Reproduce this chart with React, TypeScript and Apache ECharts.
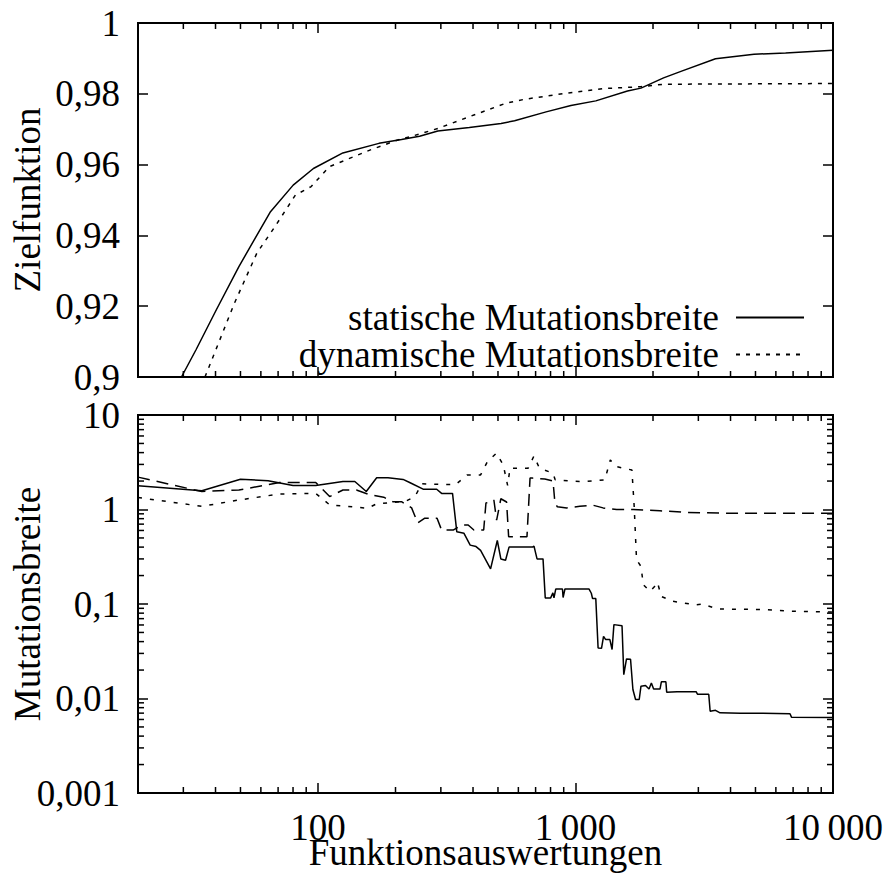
import React, { useEffect, useRef } from 'react';
import * as echarts from 'echarts';

const FONT = '"Liberation Serif", "Times New Roman", serif';
const FS = 37;
const LH = 26;

// ---- top panel: Zielfunktion ----
const zielStatischX = [29.5, 33.6, 40.3, 49.3, 65.4, 80.1, 96, 124.9, 172.5, 211, 248, 292, 387, 514, 580, 769, 960, 1199, 1592, 1796, 2198, 2583, 3497, 4934, 6546, 10000];
const zielStatischY = [0.9, 0.9077, 0.919, 0.9312, 0.9467, 0.9542, 0.9589, 0.9633, 0.966, 0.9671, 0.968, 0.9695, 0.9705, 0.9716, 0.9724, 0.9749, 0.9767, 0.978, 0.9808, 0.9816, 0.9845, 0.9864, 0.9899, 0.9912, 0.9915, 0.9923];
const zielDynamischX = [36.4, 47.4, 57.9, 68.1, 81.7, 94.1, 110.6, 130, 159, 203, 229, 292, 403, 535, 629, 904, 1300, 1796, 2198, 10000];
const zielDynamischY = [0.9, 0.9209, 0.935, 0.9425, 0.9514, 0.9538, 0.9594, 0.9615, 0.9641, 0.9669, 0.9679, 0.9702, 0.974, 0.9773, 0.9784, 0.9801, 0.9815, 0.982, 0.9827, 0.9829];

// ---- bottom panel: Mutationsbreite ----
const breiteStatischX = [20, 35.4, 50, 64, 80, 98, 125, 139, 154, 169, 187, 214, 228, 256, 289, 302, 333, 346, 369, 390, 411, 428, 468, 497, 513, 535, 552, 681, 690, 709, 748, 763, 801, 817, 825, 838, 890, 895, 910, 1129, 1152, 1165, 1199, 1224, 1262, 1285, 1310, 1360, 1387, 1410, 1516, 1540, 1578, 1636, 1671, 1711, 1768, 1796, 1870, 1930, 1971, 2011, 2129, 2155, 2244, 2260, 2481, 2940, 2976, 3292, 3334, 3497, 3642, 4365, 5346, 6808, 6897, 10000];
const breiteStatischY = [1.78, 1.58, 2.09, 2.02, 1.79, 1.79, 1.98, 1.98, 1.55, 2.17, 2.17, 2.08, 1.92, 1.64, 1.64, 1.48, 1.48, 0.58, 0.56, 0.42, 0.405, 0.37, 0.235, 0.47, 0.3, 0.29, 0.4, 0.4, 0.41, 0.3, 0.3, 0.116, 0.116, 0.131, 0.116, 0.144, 0.144, 0.117, 0.144, 0.144, 0.13, 0.114, 0.114, 0.0343, 0.034, 0.0455, 0.042, 0.042, 0.033, 0.0605, 0.059, 0.0179, 0.0262, 0.026, 0.01245, 0.00976, 0.00976, 0.0135, 0.0137, 0.0126, 0.0146, 0.0126, 0.0126, 0.015, 0.015, 0.01167, 0.0118, 0.0118, 0.0111, 0.0111, 0.00734, 0.0075, 0.00706, 0.007, 0.00696, 0.0069, 0.00635, 0.0063];

const breiteDyn1X = [20, 35.4, 49.3, 71, 98, 111, 125, 141, 159, 180, 195, 211, 231, 244, 260, 290, 302, 335, 361, 383, 403, 440, 449, 470, 482, 494, 513, 540, 550, 648, 666, 680, 760, 818, 832, 850, 925, 1040, 1170, 1280, 1445, 1675, 2128, 2704, 4096, 10000];
const breiteDyn1Y = [2.2, 1.55, 1.61, 1.93, 1.93, 1.37, 1.61, 1.61, 1.43, 1.35, 1.21, 1.21, 1.04, 0.72, 0.81, 0.81, 0.606, 0.606, 0.685, 0.685, 0.606, 0.606, 1.17, 1.22, 1.26, 0.77, 1.3, 1.2, 0.515, 0.515, 2.15, 2.15, 2.1, 2.0, 1.17, 1.07, 1.04, 1.08, 1.11, 1.04, 1.0, 1.0, 0.97, 0.93, 0.91, 0.91];

const breiteDyn2X = [20, 35.4, 49.3, 71, 98, 111, 130, 156, 169, 187, 220, 238, 253, 316, 343, 379, 428, 455, 493, 524, 545, 557, 655, 690, 724, 817, 834, 1062, 1300, 1365, 1439, 1528, 1656, 1690, 1726, 1796, 1834, 1947, 2028, 2080, 2155, 2384, 2919, 3100, 3572, 5346, 6808, 10000];
const breiteDyn2Y = [1.34, 1.08, 1.26, 1.46, 1.48, 1.12, 1.08, 1.03, 1.15, 1.17, 1.23, 1.37, 1.87, 1.84, 1.84, 2.32, 2.32, 3.21, 3.94, 2.97, 1.8, 2.74, 2.74, 3.69, 2.74, 2.42, 2.06, 1.97, 2.06, 3.35, 2.85, 2.74, 2.62, 1.08, 0.294, 0.25, 0.16, 0.136, 0.153, 0.17, 0.12, 0.107, 0.098, 0.1, 0.0886, 0.0875, 0.084, 0.0823];

const xMinorTicks = [30, 40, 50, 60, 70, 80, 90, 200, 300, 400, 500, 600, 700, 800, 900, 2000, 3000, 4000, 5000, 6000, 7000, 8000, 9000];
const yLogMinorTicks = [0.002, 0.003, 0.004, 0.005, 0.006, 0.007, 0.008, 0.009, 0.02, 0.03, 0.04, 0.05, 0.06, 0.07, 0.08, 0.09, 0.2, 0.3, 0.4, 0.5, 0.6, 0.7, 0.8, 0.9, 2, 3, 4, 5, 6, 7, 8, 9];
const legendNames = ['statische Mutationsbreite', 'dynamische Mutationsbreite'];
const axisNames = { x: 'Funktionsauswertungen', yTop: 'Zielfunktion', yBottom: 'Mutationsbreite' };

const zip = (xs: number[], ys: number[]) => xs.map((x, i) => [x, ys[i]]);

const fmtLin = (v: number) => String(Math.round(v * 1000) / 1000).replace('.', ',');
const fmtLog = (v: number) => {
  const l = Math.log10(v);
  const e = Math.round(l);
  if (Math.abs(l - e) > 1e-6) return '';
  if (e < 0) return '0,' + '0'.repeat(-e - 1) + '1';
  const s = '1' + '0'.repeat(e);
  return s.replace(/\B(?=(\d{3})+(?!\d))/g, '\u2009');
};

const tickStyle = { stroke: '#000', lineWidth: 1.5 };

function minorTicks(xAxisIndex: number, yAxisIndex: number, values: number[], dir: 'x' | 'y', ref: number, len: number) {
  return {
    type: 'custom',
    xAxisIndex,
    yAxisIndex,
    silent: true,
    clip: false,
    z: 5,
    data: values.map((v) => (dir === 'x' ? [v, ref] : [ref, v])),
    renderItem: (params: any, api: any) => {
      const cs = params.coordSys;
      const p = api.coord([api.value(0), api.value(1)]);
      if (dir === 'x') {
        return {
          type: 'group',
          children: [
            { type: 'line', shape: { x1: p[0], y1: cs.y + cs.height, x2: p[0], y2: cs.y + cs.height - len }, style: tickStyle },
            { type: 'line', shape: { x1: p[0], y1: cs.y, x2: p[0], y2: cs.y + len }, style: tickStyle },
          ],
        };
      }
      return {
        type: 'group',
        children: [
          { type: 'line', shape: { x1: cs.x, y1: p[1], x2: cs.x + len, y2: p[1] }, style: tickStyle },
          { type: 'line', shape: { x1: cs.x + cs.width, y1: p[1], x2: cs.x + cs.width - len, y2: p[1] }, style: tickStyle },
        ],
      };
    },
  };
}

const majorTick = { show: true, inside: true, length: 10, lineStyle: { color: '#000', width: 1.5 } };

function xAxis(gridIndex: number, position: string, showLabel: boolean, name?: string) {
  return {
    type: 'log',
    logBase: 10,
    gridIndex,
    position,
    min: 20,
    max: 10000,
    axisLine: { show: false },
    axisTick: majorTick,
    splitLine: { show: false },
    axisLabel: {
      show: showLabel,
      formatter: fmtLog,
      fontSize: FS,
      lineHeight: LH,
      fontFamily: FONT,
      color: '#000',
      margin: 21,
      showMinLabel: false,
      showMaxLabel: true,
      hideOverlap: false,
    },
    name: name || '',
    nameLocation: 'middle',
    nameGap: 46,
    nameMoveOverlap: false,
    nameTextStyle: { fontSize: FS, lineHeight: LH, fontFamily: FONT, color: '#000' },
  };
}

function yAxis(gridIndex: number, position: string, log: boolean, showLabel: boolean, name?: string) {
  const base: any = log
    ? { type: 'log', logBase: 10, min: 0.001, max: 10 }
    : { type: 'value', min: 0.9, max: 1, interval: 0.02 };
  return {
    ...base,
    gridIndex,
    position,
    axisLine: { show: false },
    axisTick: majorTick,
    splitLine: { show: false },
    axisLabel: {
      show: showLabel,
      formatter: log ? fmtLog : fmtLin,
      fontSize: FS,
      lineHeight: LH,
      fontFamily: FONT,
      color: '#000',
      margin: 18,
      showMinLabel: true,
      showMaxLabel: true,
      hideOverlap: false,
    },
    name: name || '',
    nameLocation: 'middle',
    nameGap: 92,
    nameMoveOverlap: false,
    nameTextStyle: { fontSize: FS, fontFamily: FONT, color: '#000' },
  };
}

function lineSeries(name: string, xAxisIndex: number, yAxisIndex: number, data: number[][], type: any) {
  return {
    type: 'line',
    name,
    xAxisIndex,
    yAxisIndex,
    data,
    symbol: 'none',
    showSymbol: false,
    z: 3,
    lineStyle: { color: '#000', width: 1.5, type },
    itemStyle: { color: '#000' },
  };
}

function legendFor(name: string, top: number) {
  return {
    data: [name],
    right: 81,
    top,
    orient: 'horizontal',
    align: 'right',
    itemWidth: 68,
    itemHeight: 14,
    selectedMode: false,
    padding: 0,
    itemStyle: { opacity: 0 },
    textStyle: { fontSize: FS, lineHeight: 30, fontFamily: FONT, color: '#000', padding: [0, 12, 0, 0] },
  };
}

export default function App() {
  const ref = useRef<HTMLDivElement>(null);
  useEffect(() => {
    if (!ref.current) return;
    const chart = echarts.init(ref.current, null, { renderer: 'svg' });
    const option: any = {
      animation: false,
      backgroundColor: '#fff',
      textStyle: { fontFamily: FONT, color: '#000' },
      grid: [
        { left: 138, top: 23, width: 695, height: 354, show: true, borderColor: '#000', borderWidth: 2, backgroundColor: 'transparent', outerBoundsMode: 'none' },
        { left: 138, top: 415, width: 695, height: 378, show: true, borderColor: '#000', borderWidth: 2, backgroundColor: 'transparent', outerBoundsMode: 'none' },
      ],
      xAxis: [
        xAxis(0, 'bottom', false),
        xAxis(0, 'top', false),
        xAxis(1, 'bottom', true, axisNames.x),
        xAxis(1, 'top', false),
      ],
      yAxis: [
        yAxis(0, 'left', false, true, axisNames.yTop),
        yAxis(0, 'right', false, false),
        yAxis(1, 'left', true, true, axisNames.yBottom),
        yAxis(1, 'right', true, false),
      ],
      legend: [legendFor(legendNames[0], 299), legendFor(legendNames[1], 336)],
      series: [
        lineSeries(legendNames[0], 0, 0, zip(zielStatischX, zielStatischY), 'solid'),
        lineSeries(legendNames[1], 0, 0, zip(zielDynamischX, zielDynamischY), [4, 6]),
        lineSeries('Mutationsbreite statisch', 2, 2, zip(breiteStatischX, breiteStatischY), 'solid'),
        lineSeries('Mutationsbreite dynamisch (1)', 2, 2, zip(breiteDyn1X, breiteDyn1Y), [12, 7]),
        lineSeries('Mutationsbreite dynamisch (2)', 2, 2, zip(breiteDyn2X, breiteDyn2Y), [4, 8]),
        minorTicks(0, 0, xMinorTicks, 'x', 0.95, 6),
        minorTicks(2, 2, xMinorTicks, 'x', 1, 6),
        minorTicks(2, 2, yLogMinorTicks, 'y', 100, 6),
      ],
    };
    chart.setOption(option);
    return () => chart.dispose();
  }, []);
  return <div ref={ref} style={{ position: 'absolute', left: 0, top: 0, width: 886, height: 873 }} />;
}
